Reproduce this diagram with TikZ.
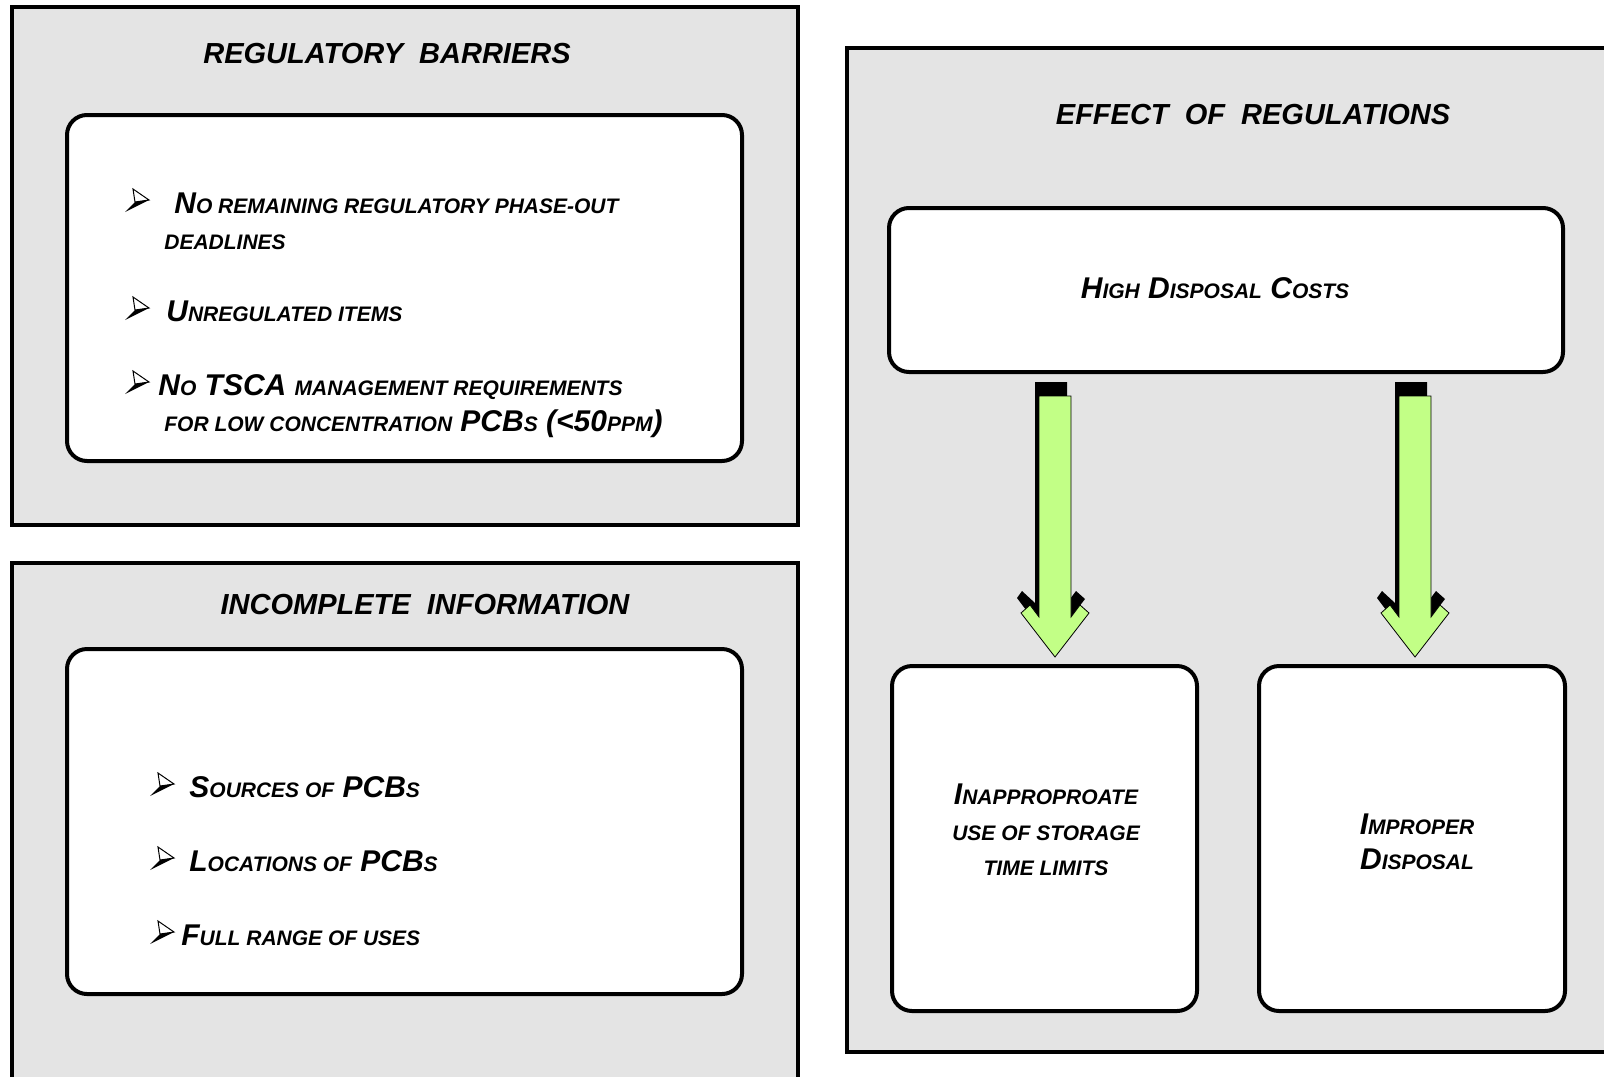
\documentclass[tikz,border=0pt]{standalone}
\usepackage{fontspec}
\usetikzlibrary{calc}
\setmainfont{Liberation Sans}
\definecolor{panelgray}{HTML}{E4E4E4}
\definecolor{arrowgreen}{HTML}{C2FF86}
\newcommand\smc[1]{{\fontsize{10.5}{13}\selectfont #1}}
\begin{document}
\begin{tikzpicture}[x=0.5pt,y=-0.5pt,
  panel/.style={draw=black,line width=2pt,fill=panelgray},
  card/.style={draw=black,line width=2pt,fill=white,rounded corners=10pt,inner sep=0pt},
  titletext/.style={font=\fontsize{14.5}{17}\selectfont\bfseries\itshape,inner sep=0pt},
  itemtext/.style={anchor=base west,inner sep=0pt,font=\fontsize{15}{18}\selectfont\bfseries\itshape},
  ctext/.style={anchor=base,inner sep=0pt,font=\fontsize{15}{18}\selectfont\bfseries\itshape},
  dart/.pic={
    \draw[black,line width=0.5pt,fill=white,line join=miter] (-3,-12) -- (13,-1) -- (-1,1) -- cycle;
    \fill[black] (-1,1) -- (13,-1) -- (-11,11) -- cycle;
  },
  downarrow/.pic={
    \fill[black] (-20,-14) -- (12,-14) -- (12,207) -- (21,195) -- (30,203) -- (-4,247) -- (-38,202) -- (-33,195) -- (-20,207) -- cycle;
    \draw[black,line width=0.4pt,fill=arrowgreen] (-16,0) -- (16,0) -- (16,221) -- (25,209) -- (34,217) -- (0,261) -- (-34,217) -- (-25,209) -- (-16,221) -- cycle;
  }]
\useasboundingbox (0,0) rectangle (1604,1076);
\clip (0,0) rectangle (1604,1076);
\fill[white] (0,0) rectangle (1604,1076);

% panels
\draw[panel] (12,7) rectangle (798,525);
\draw[panel] (12,563) rectangle (798,1100);
\draw[panel] (847,48) rectangle (1630,1052);

% titles
\node[titletext] (t1) at (387,54) {REGULATORY\ \ BARRIERS};
\node[titletext] (t2) at (425,605) {INCOMPLETE\ \ INFORMATION};
\node[titletext] (t3) at (1253,115) {EFFECT\ \ OF\ \ REGULATIONS};

% cards
\node[card,minimum width=337.5pt,minimum height=173pt] (rb) at (404.5,288) {};
\node[card,minimum width=337.5pt,minimum height=172.5pt] (ii) at (404.5,821.5) {};
\node[card,minimum width=337pt,minimum height=82pt] (hd) at (1226,290) {};
\node[card,minimum width=152.5pt,minimum height=172.5pt] (ia) at (1044.5,838.5) {};
\node[card,minimum width=153pt,minimum height=172.5pt] (ip) at (1412,838.5) {};

% regulatory barriers list
\pic at (136,201) {dart};
\node[itemtext] (r1a) at (174,213) {N\smc{O REMAINING REGULATORY PHASE-OUT}};
\node[itemtext] (r1b) at (164,249) {\smc{DEADLINES}};
\pic at (136,309) {dart};
\node[itemtext] (r2) at (166,321) {U\smc{NREGULATED ITEMS}};
\pic at (136,383) {dart};
\node[itemtext] (r3a) at (158,395) {N\smc{O} TSCA \smc{MANAGEMENT REQUIREMENTS}};
\node[itemtext] (r3b) at (164,431) {\smc{FOR LOW CONCENTRATION} PCB\smc{S} (<50\smc{PPM})};

% incomplete information list
\pic at (161,785) {dart};
\node[itemtext] (i1) at (189,797) {S\smc{OURCES OF} PCB\smc{S}};
\pic at (161,859) {dart};
\node[itemtext] (i2) at (189,871) {L\smc{OCATIONS OF} PCB\smc{S}};
\pic at (161,933) {dart};
\node[itemtext] (i3) at (181,945) {F\smc{ULL RANGE OF USES}};

% effect texts
\node[ctext] (hdt) at (1215,298) {H\smc{IGH} D\smc{ISPOSAL} C\smc{OSTS}};
\node[ctext] (ia1) at (1046,804) {I\smc{NAPPROPROATE}};
\node[ctext] (ia2) at (1046,840) {\smc{USE OF STORAGE}};
\node[ctext] (ia3) at (1046,875) {\smc{TIME LIMITS}};
\node[ctext] (ip1) at (1417,834) {I\smc{MPROPER}};
\node[ctext] (ip2) at (1417,869) {D\smc{ISPOSAL}};

% arrows from the cost box to the two effect boxes
\pic at ($(hd.south -| ia.north)+(10.5,22)$) {downarrow};
\pic at ($(hd.south -| ip.north)+(3,22)$) {downarrow};
\end{tikzpicture}
\end{document}
